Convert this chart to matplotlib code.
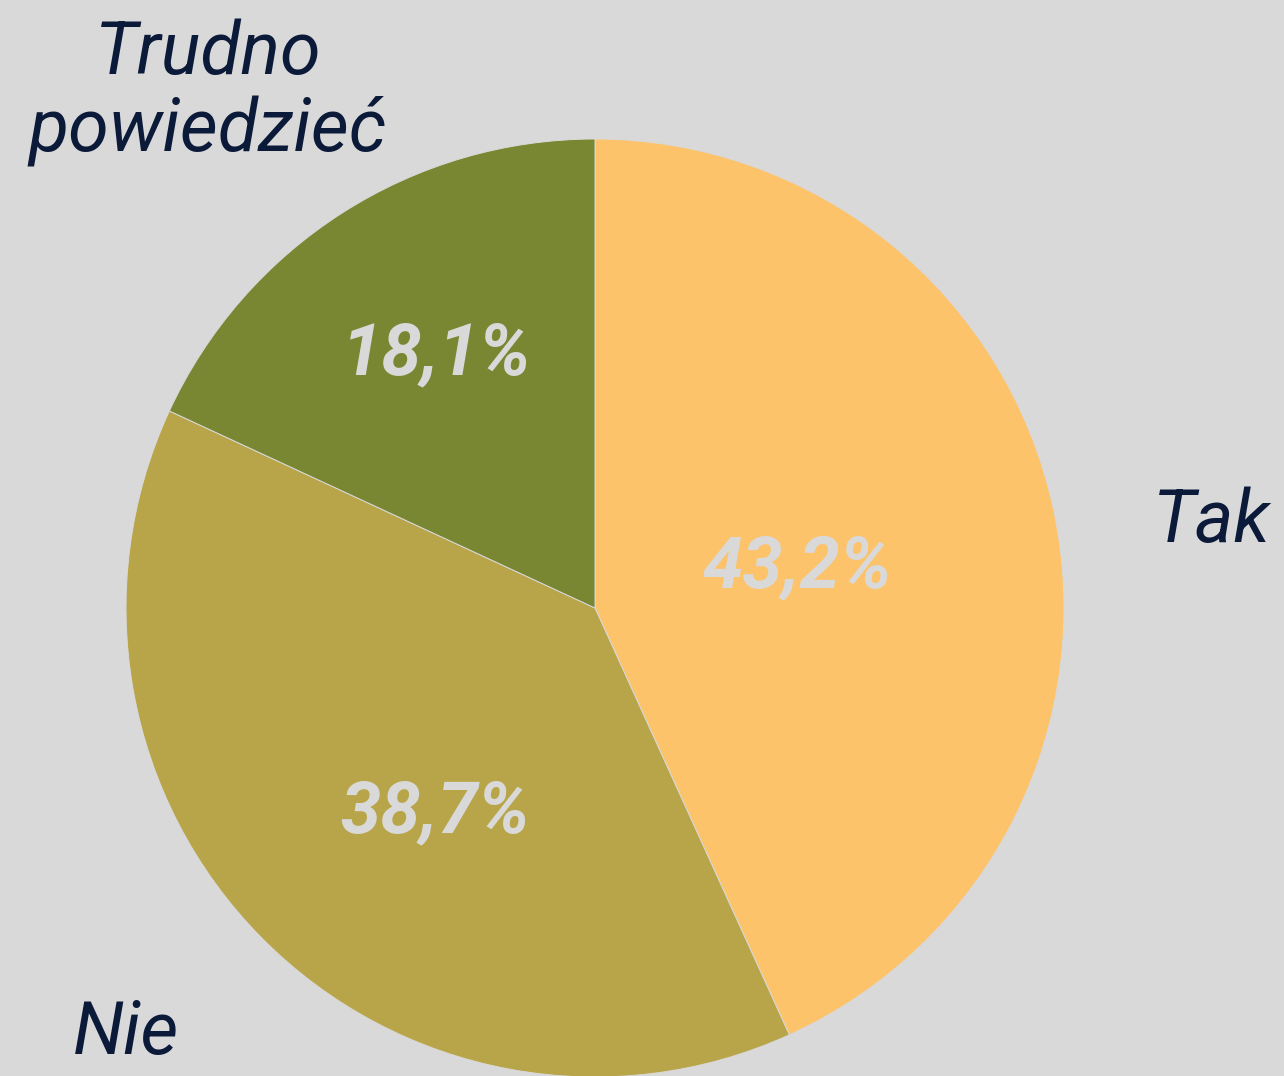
import matplotlib
matplotlib.use('Agg')
import matplotlib.pyplot as plt

# dane
categories = ['Tak', 'Nie', 'Trudno\npowiedzieć']
values = [43.2, 38.7, 18.1]
pct_labels = ['43,2%', '38,7%', '18,1%']
colors = ['#FDC36A', '#B8A549', '#798732']

BG = '#D9D9D9'
NAVY = '#0C1A3A'
W, H = 1284, 1076

fig = plt.figure(figsize=(W / 100, H / 100), dpi=100, facecolor=BG)
ax = fig.add_axes([0, 0, 1, 1])
ax.set_facecolor(BG)

cx, cy, r = 595, H - 608, 469
ax.pie(values, colors=colors, startangle=90, counterclock=False,
       center=(cx, cy), radius=r, frame=True,
       wedgeprops=dict(edgecolor=BG, linewidth=0.7))
ax.set_xlim(0, W)
ax.set_ylim(0, H)
ax.set_aspect('equal')
ax.axis('off')

# etykiety kategorii
label_pos = [(1212, 522), (126, 1034), (208, 93)]
for txt, (x, y) in zip(categories, label_pos):
    ax.text(x, H - y, txt, ha='center', va='center', fontsize=53,
            family='Roboto', style='italic', color=NAVY, linespacing=1.12)

# procenty
pct_pos = [(797, 568), (435, 813), (437, 355)]
for txt, (x, y) in zip(pct_labels, pct_pos):
    ax.text(x, H - y, txt, ha='center', va='center', fontsize=52,
            family='Roboto', style='italic', weight='bold', color=BG)

fig.savefig('out.png', dpi=100, facecolor=BG)
